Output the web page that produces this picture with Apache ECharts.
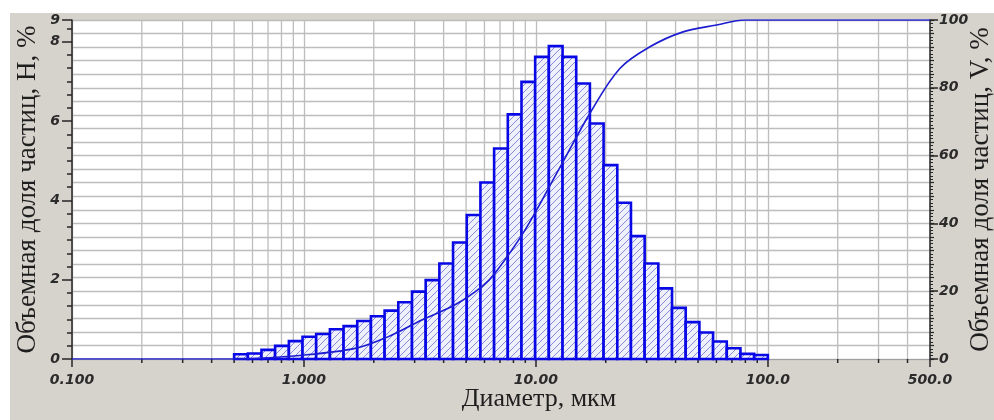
<!DOCTYPE html>
<html>
<head>
<meta charset="utf-8">
<title>Распределение частиц по размерам</title>
<script src="https://cdn.jsdelivr.net/npm/echarts@6/dist/echarts.min.js"></script>
<style>
	html, body { margin: 0; padding: 0; background: #fff; }
	#chart { width: 994px; height: 420px; }
</style>
</head>
<body>
<div id="chart"></div>
<script>
// границы интервалов, мкм
var binEdges = [0.500, 0.573, 0.656, 0.751, 0.861, 0.986, 1.129, 1.294, 1.482, 1.697,
	1.944, 2.227, 2.551, 2.923, 3.348, 3.835, 4.393, 5.033, 5.765, 6.604,
	7.565, 8.666, 9.927, 11.37, 13.03, 14.92, 17.09, 19.58, 22.43, 25.69,
	29.43, 33.71, 38.62, 44.24, 50.68, 58.05, 66.50, 76.17, 87.26, 99.96];

// объемная доля частиц H, %
var binShare = [0.12, 0.14, 0.23, 0.33, 0.45, 0.56, 0.63, 0.75, 0.83, 0.96,
	1.08, 1.22, 1.43, 1.70, 1.99, 2.41, 2.94, 3.63, 4.45, 5.31,
	6.17, 6.99, 7.62, 7.89, 7.62, 6.95, 5.94, 4.89, 3.94, 3.10,
	2.41, 1.78, 1.29, 0.93, 0.67, 0.44, 0.27, 0.13, 0.10];

// интегральная кривая V, %
var cumDiam = [0.1, 0.5, 1.01, 1.68, 2.31, 3.22, 4.48, 5.83, 6.66, 8.97,
	12.3, 17.1, 23.0, 31.0, 43.1, 60.1, 79.6, 500];
var cumShare = [0, 0, 1.2, 3.2, 6.6, 11.5, 16.0, 21.3, 25.3, 38.0,
	54.8, 72.5, 85.7, 92.1, 96.5, 98.5, 100, 100];

// промежуточные линии логарифмической сетки
var minorDiam = [0.2, 0.3, 0.4, 0.5, 0.6, 0.7, 0.8, 0.9,
	2, 3, 4, 5, 6, 7, 8, 9,
	20, 30, 40, 50, 60, 70, 80, 90,
	200, 300, 400];

var gridColor = '#bdbdbd';
var inkColor = '#262626';
var blue = '#0808e6';

// штриховка столбцов
function makeHatch() {
	var c = document.createElement('canvas');
	c.width = 7;
	c.height = 7;
	var ctx = c.getContext('2d');
	ctx.fillStyle = '#eef0fb';
	ctx.fillRect(0, 0, 7, 7);
	ctx.strokeStyle = 'rgba(80,80,200,0.65)';
	ctx.lineWidth = 1;
	ctx.beginPath();
	ctx.moveTo(-1, 8); ctx.lineTo(8, -1);
	ctx.moveTo(-1, 1); ctx.lineTo(1, -1);
	ctx.moveTo(6, 8); ctx.lineTo(8, 6);
	ctx.stroke();
	return c;
}
var hatch = { image: makeHatch(), repeat: 'repeat' };

var barData = binShare.map(function(h, i) {
	return [binEdges[i], binEdges[i + 1], h];
});
var cumData = cumDiam.map(function(d, i) {
	return [d, cumShare[i]];
});
var minorData = minorDiam.map(function(d) {
	return [d, 0];
});

function renderBar(params, api) {
	var top = api.coord([api.value(0), api.value(2)]);
	var bottom = api.coord([api.value(1), 0]);
	return {
		type: 'rect',
		shape: {
			x: top[0],
			y: top[1],
			width: bottom[0] - top[0],
			height: bottom[1] - top[1]
		},
		style: {
			fill: hatch,
			stroke: blue,
			lineWidth: 2.6
		}
	};
}

function renderMinor(params, api) {
	var cs = params.coordSys;
	var p = api.coord([api.value(0), 0]);
	var yb = cs.y + cs.height;
	return {
		type: 'group',
		children: [{
			type: 'line',
			shape: { x1: p[0], y1: cs.y, x2: p[0], y2: yb },
			style: { stroke: gridColor, lineWidth: 1.3 }
		}, {
			type: 'line',
			shape: { x1: p[0], y1: yb, x2: p[0], y2: yb + 4 },
			style: { stroke: inkColor, lineWidth: 1.5 }
		}]
	};
}

var tickFont = {
	fontFamily: 'DejaVu Sans',
	fontStyle: 'italic',
	fontWeight: 'bold',
	fontSize: 14,
	color: '#2b2b2b'
};
var titleFont = {
	fontFamily: 'Liberation Serif',
	fontSize: 27,
	color: '#1e1e1e'
};

var chart = echarts.init(document.getElementById('chart'));
chart.setOption({
	backgroundColor: '#d6d3cd',
	animation: false,
	graphic: [{
		type: 'rect',
		left: 0, top: 0,
		shape: { width: 994, height: 13 },
		style: { fill: '#fff' }
	}, {
		type: 'rect',
		left: 0, top: 0,
		shape: { width: 10, height: 420 },
		style: { fill: '#fff' }
	}],
	grid: {
		left: 72,
		right: 64,
		top: 20,
		bottom: 61,
		outerBoundsMode: 'none',
		containLabel: false,
		show: true,
		backgroundColor: '#ffffff',
		borderWidth: 0
	},
	xAxis: [{
		type: 'log',
		logBase: 10,
		min: 0.1,
		max: 500,
		axisLine: { show: true, lineStyle: { color: '#a0a0a0', width: 1 } },
		axisTick: { show: true, length: 8, lineStyle: { color: inkColor, width: 1.5 } },
		axisLabel: Object.assign({
			margin: 14,
			showMinLabel: true,
			showMaxLabel: true,
			formatter: function(v) {
				return v < 1 ? v.toFixed(3) : v.toPrecision(4);
			}
		}, tickFont),
		splitLine: { show: true, lineStyle: { color: gridColor, width: 1.3 } },
		name: 'Диаметр, мкм',
		nameLocation: 'middle',
		nameMoveOverlap: false,
		nameGap: 27,
		nameTextStyle: Object.assign({ padding: [0, 0, 0, 76] }, titleFont, { fontSize: 26 })
	}],
	yAxis: [{
		// H, %
		type: 'value',
		position: 'left',
		min: 0,
		max: 8.55,
		interval: 2,
		axisLine: { show: true, lineStyle: { color: inkColor, width: 1.5 } },
		axisTick: { show: true, length: 10, lineStyle: { color: inkColor, width: 1.5 } },
		minorTick: { show: true, splitNumber: 6, length: 5, lineStyle: { color: inkColor, width: 1.5 } },
		splitLine: { show: false },
		axisLabel: Object.assign({
			margin: 12,
			formatter: function(v) {
				return v > 8.2 ? '9' : String(v);
			}
		}, tickFont),
		name: 'Объемная доля частиц, H, %',
		nameLocation: 'middle',
		nameMoveOverlap: false,
		nameRotate: 90,
		nameGap: 31,
		nameTextStyle: titleFont
	}, {
		// сетка и мелкие деления V
		type: 'value',
		position: 'right',
		min: 0,
		max: 100,
		interval: 4,
		axisLine: { show: true, lineStyle: { color: inkColor, width: 1.5 } },
		axisTick: { show: true, length: 4, lineStyle: { color: inkColor, width: 1.2 } },
		minorTick: { show: true, splitNumber: 4, length: 3, lineStyle: { color: inkColor, width: 1 } },
		splitLine: { show: true, lineStyle: { color: gridColor, width: 1.3 } },
		axisLabel: { show: false }
	}, {
		// V, %
		type: 'value',
		position: 'right',
		min: 0,
		max: 100,
		interval: 20,
		axisLine: { show: false },
		axisTick: { show: true, length: 8, lineStyle: { color: inkColor, width: 1.5 } },
		splitLine: { show: false },
		axisLabel: Object.assign({ margin: 9 }, tickFont),
		name: 'Объемная доля частиц, V, %',
		nameLocation: 'middle',
		nameMoveOverlap: false,
		nameRotate: 90,
		nameGap: 37,
		nameTextStyle: titleFont
	}],
	series: [{
		name: 'сетка',
		type: 'custom',
		xAxisIndex: 0,
		yAxisIndex: 0,
		silent: true,
		renderItem: renderMinor,
		encode: { x: 0, y: 1 },
		data: minorData,
		z: 1
	}, {
		name: 'H',
		type: 'custom',
		xAxisIndex: 0,
		yAxisIndex: 0,
		renderItem: renderBar,
		encode: { x: [0, 1], y: 2 },
		data: barData,
		z: 3
	}, {
		name: 'V',
		type: 'line',
		xAxisIndex: 0,
		yAxisIndex: 2,
		data: cumData,
		smooth: 0.35,
		symbol: 'none',
		lineStyle: { color: '#1c1cd0', width: 1.6 },
		z: 4
	}]
});
</script>
</body>
</html>
